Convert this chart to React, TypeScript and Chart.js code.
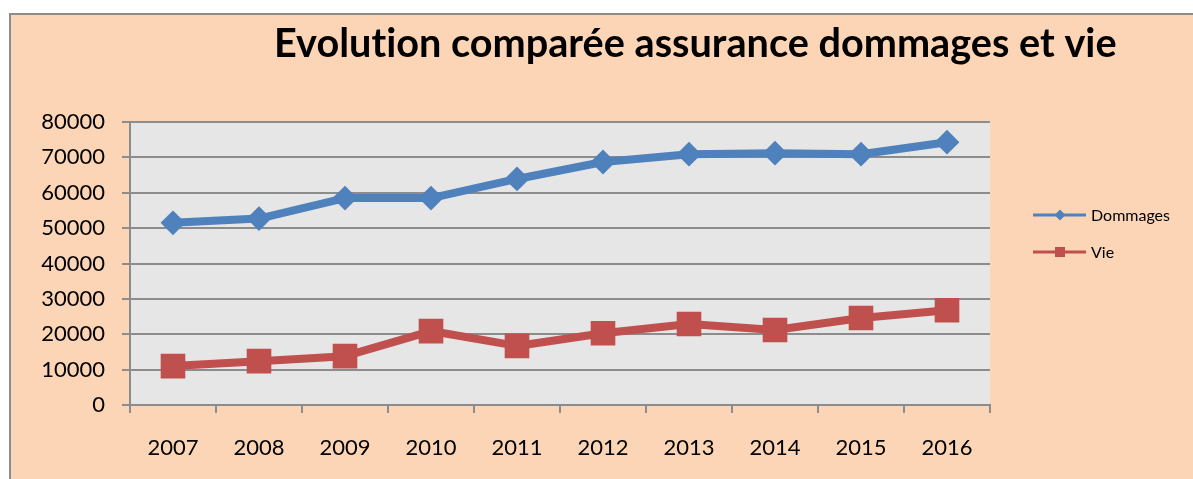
import React, { useEffect, useRef } from 'react';
import { Chart, registerables } from 'chart.js';

Chart.register(...registerables);

const categories = ['2007', '2008', '2009', '2010', '2011', '2012', '2013', '2014', '2015', '2016'];
const dommages = [51500, 52700, 58500, 58500, 63900, 68700, 70900, 71200, 70900, 74300];
const vie = [11000, 12400, 13800, 20900, 16700, 20300, 22900, 21200, 24600, 26800];
const seriesNames = ['Dommages', 'Vie'];
const titleText = 'Evolution comparée assurance dommages et vie';
const yMin = 0;
const yMax = 80000;
const yStep = 10000;

const BLUE = '#4F81BD';
const RED = '#C0504D';
const ORANGE = '#FBD5B5';
const PLOT_BG = '#E6E6E6';
const GRID = '#8C8C8C';
const FONT = 'Lato, "Open Sans", sans-serif';

const decorPlugin = {
  id: 'decor',
  beforeDraw(chart: any) {
    const { ctx, chartArea, width, height } = chart;
    ctx.save();
    ctx.fillStyle = '#FFFFFF';
    ctx.fillRect(0, 0, width, height);
    ctx.fillStyle = ORANGE;
    ctx.fillRect(10, 14, width, height);
    ctx.strokeStyle = '#8C8C8C';
    ctx.lineWidth = 2;
    ctx.strokeRect(10, 14, width + 20, height + 20);
    ctx.fillStyle = PLOT_BG;
    ctx.fillRect(chartArea.left, chartArea.top, chartArea.right - chartArea.left, chartArea.bottom - chartArea.top);
    ctx.restore();
  },
  afterDraw(chart: any) {
    const { ctx } = chart;
    ctx.save();
    // title
    try {
      (ctx as any).letterSpacing = '0.01px';
    } catch (e) {
      /* ignore */
    }
    let size = 34;
    ctx.font = `bold ${size}px ${FONT}`;
    const w = ctx.measureText(titleText).width;
    size = (size * 843) / w;
    ctx.font = `bold ${size}px ${FONT}`;
    ctx.fillStyle = '#000000';
    ctx.textAlign = 'left';
    ctx.textBaseline = 'alphabetic';
    ctx.fillText(titleText, 274, 57);
    try {
      (ctx as any).letterSpacing = '0px';
    } catch (e) {
      /* ignore */
    }

    // legend
    const ys = [215, 252];
    chart.data.datasets.forEach((ds: any, i: number) => {
      const y = ys[i];
      ctx.strokeStyle = ds.borderColor;
      ctx.lineWidth = 3;
      ctx.beginPath();
      ctx.moveTo(1033, y);
      ctx.lineTo(1086, y);
      ctx.stroke();
      ctx.fillStyle = ds.borderColor;
      const cx = 1060;
      if (ds.pointStyle === 'rectRot') {
        const r = 5.5;
        ctx.beginPath();
        ctx.moveTo(cx - r, y);
        ctx.lineTo(cx, y - r);
        ctx.lineTo(cx + r, y);
        ctx.lineTo(cx, y + r);
        ctx.closePath();
        ctx.fill();
      } else {
        ctx.fillRect(cx - 5, y - 5, 10, 10);
      }
      ctx.fillStyle = '#000000';
      ctx.font = `16px ${FONT}`;
      ctx.textAlign = 'left';
      ctx.textBaseline = 'middle';
      ctx.fillText(ds.label, 1091, y + 1);
    });
    ctx.restore();
  },
};

export default function App() {
  const ref = useRef<HTMLCanvasElement>(null);

  useEffect(() => {
    if (!ref.current) return;
    const chart = new Chart(ref.current, {
      type: 'line',
      data: {
        labels: categories,
        datasets: [
          {
            label: seriesNames[0],
            data: dommages,
            borderColor: BLUE,
            backgroundColor: BLUE,
            borderWidth: 8,
            borderJoinStyle: 'round',
            pointStyle: 'rectRot',
            pointRadius: 11,
            pointBorderWidth: 2,
            pointBackgroundColor: BLUE,
            pointBorderColor: BLUE,
            tension: 0,
          },
          {
            label: seriesNames[1],
            data: vie,
            borderColor: RED,
            backgroundColor: RED,
            borderWidth: 8,
            borderJoinStyle: 'round',
            pointStyle: 'rect',
            pointRadius: 16,
            pointBorderWidth: 2,
            pointBackgroundColor: RED,
            pointBorderColor: RED,
            tension: 0,
          },
        ],
      },
      options: {
        responsive: false,
        animation: false,
        layout: { padding: { left: 0, top: 122, right: 203, bottom: 0 } },
        plugins: {
          legend: { display: false },
          title: { display: false },
          tooltip: { enabled: false },
        },
        scales: {
          x: {
            offset: true,
            afterFit: (s: any) => {
              s.height = 74;
            },
            grid: {
              display: true,
              drawOnChartArea: false,
              drawTicks: true,
              tickLength: 8,
              offset: true,
              color: GRID,
              lineWidth: 2,
            },
            border: { display: true, color: GRID, width: 2 },
            ticks: {
              color: '#000000',
              font: { family: FONT, size: 22 },
              padding: 22,
              maxRotation: 0,
            },
          },
          y: {
            min: yMin,
            max: yMax,
            afterFit: (s: any) => {
              s.width = 130;
            },
            grid: {
              color: GRID,
              lineWidth: 2,
              drawTicks: true,
              tickLength: 8,
            },
            border: { display: true, color: GRID, width: 2 },
            ticks: {
              stepSize: yStep,
              color: '#000000',
              font: { family: FONT, size: 22 },
              padding: 17,
              callback: (v: any) => String(v),
            },
          },
        },
      },
      plugins: [decorPlugin],
    } as any);
    return () => chart.destroy();
  }, []);

  return (
    <div style={{ position: 'fixed', left: 0, top: 0, width: 1193, height: 479, background: '#fff' }}>
      <canvas ref={ref} width={1193} height={479} style={{ display: 'block', width: 1193, height: 479 }} />
    </div>
  );
}
